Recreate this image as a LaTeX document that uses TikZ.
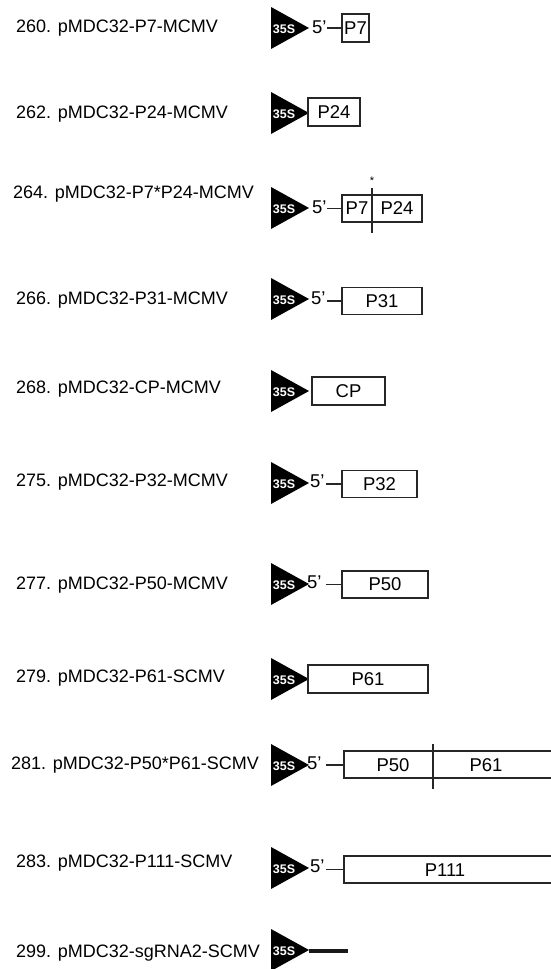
\documentclass[tikz,border=0pt]{standalone}
\usepackage{fontspec}
\setmainfont{Liberation Sans}
\tikzset{
  lbl/.style={anchor=west, inner sep=0pt, font=\fontsize{18}{19}\selectfont},
  gene/.style={draw=black!85, line width=1.6pt, inner sep=0pt, font=\fontsize{18.5}{19}\selectfont},
  gtxt/.style={font=\fontsize{18.5}{19}\selectfont, inner sep=0pt},
  five/.style={anchor=west, inner sep=0pt, font=\fontsize{18.5}{19}\selectfont},
  prom/.style={fill=black},
  promtxt/.style={text=white, inner sep=0pt, font=\bfseries\fontsize{12.5}{13}\selectfont},
  link/.style={draw=black!85, line width=1.6pt},
}
% promoter: #1 name, #2 center y
\newcommand{\promo}[2]{%
  \fill[prom] (271,#2-21) -- (309,#2) -- (271,#2+21) -- cycle;
  \coordinate (#1tip) at (309,#2);
  \node[promtxt] (#1s) at (284,#2+1) {35S};
}
\begin{document}
\begin{tikzpicture}[x=1pt,y=-1pt]
\useasboundingbox[fill=white] (0,0) rectangle (550,969);

% 260
\node[lbl] (l260) at (16,28) {260. pMDC32-P7-MCMV};
\promo{a}{28}
\node[five] (f260) at (312,27) {5’};
\node[gene, minimum width=27pt, minimum height=28pt] (b260) at (355.5,28) {P7};
\coordinate (c260) at (327,28);
\draw[link] (c260) -- (b260.west);

% 262
\node[lbl] (l262) at (16,114) {262. pMDC32-P24-MCMV};
\promo{b}{113}
\node[gene, minimum width=52pt, minimum height=28pt] (b262) at (334,112) {P24};

% 264
\node[lbl] (l264) at (13,194) {264. pMDC32-P7*P24-MCMV};
\promo{c}{208}
\node[five] (f264) at (312,207) {5’};
\node[gene, minimum width=80pt, minimum height=27pt] (b264) at (382,208.5) {};
\node[gtxt] (t264a) at (357,208.5) {P7};
\node[gtxt] (t264b) at (397,208.5) {P24};
\coordinate (d264t) at (372,188);
\coordinate (d264b) at (372,233);
\draw[link] (d264t) -- (d264b);
\node[font=\fontsize{11}{11}\selectfont, inner sep=0pt] (s264) at (372,181) {*};
\coordinate (c264) at (327,208.5);
\draw[link] (c264) -- (b264.west);

% 266
\node[lbl] (l266) at (16,300) {266. pMDC32-P31-MCMV};
\promo{d}{299}
\node[five] (f266) at (311,298) {5’};
\node[gene, minimum width=80pt, minimum height=27pt] (b266) at (382,301) {P31};
\coordinate (c266) at (327,301);
\draw[link] (c266) -- (b266.west);

% 268
\node[lbl] (l268) at (16,389) {268. pMDC32-CP-MCMV};
\promo{e}{391}
\node[gene, minimum width=73pt, minimum height=28pt] (b268) at (348.5,391) {CP};

% 275
\node[lbl] (l275) at (16,482) {275. pMDC32-P32-MCMV};
\promo{f}{483}
\node[five] (f275) at (310,481) {5’};
\node[gene, minimum width=75pt, minimum height=27pt] (b275) at (379.5,484) {P32};
\coordinate (c275) at (326,484);
\draw[link] (c275) -- (b275.west);

% 277
\node[lbl] (l277) at (16,585) {277. pMDC32-P50-MCMV};
\promo{g}{584}
\node[five] (f277) at (307,582) {5’};
\node[gene, minimum width=86pt, minimum height=27pt] (b277) at (385,584.5) {P50};
\coordinate (c277) at (326,584.5);
\draw[link] (c277) -- (b277.west);

% 279
\node[lbl] (l279) at (16,678) {279. pMDC32-P61-SCMV};
\promo{h}{679}
\node[gene, minimum width=120pt, minimum height=28pt] (b279) at (368,679) {P61};

% 281
\node[lbl] (l281) at (11,765) {281. pMDC32-P50*P61-SCMV};
\promo{i}{765}
\node[five] (f281) at (307,763) {5’};
\coordinate (b281nw) at (344,751);
\coordinate (b281sw) at (344,778);
\coordinate (b281ne) at (551,751);
\coordinate (b281se) at (551,778);
\draw[link] (b281ne) -- (b281nw) -- (b281sw) -- (b281se);
\coordinate (b281w) at (344,765);
\node[gtxt] (t281a) at (393,765) {P50};
\node[gtxt] (t281b) at (486,765) {P61};
\coordinate (d281t) at (433,744);
\coordinate (d281b) at (433,789);
\draw[link] (d281t) -- (d281b);
\coordinate (c281) at (326,765);
\draw[link] (c281) -- (b281w);

% 283
\node[lbl] (l283) at (16,863) {283. pMDC32-P111-SCMV};
\promo{j}{868}
\node[five] (f283) at (310,866) {5’};
\coordinate (b283nw) at (344,856);
\coordinate (b283sw) at (344,883);
\coordinate (b283ne) at (551,856);
\coordinate (b283se) at (551,883);
\draw[link] (b283ne) -- (b283nw) -- (b283sw) -- (b283se);
\coordinate (b283w) at (344,869.5);
\node[gtxt] (t283) at (445,870) {P111};
\coordinate (c283) at (326,869.5);
\draw[link] (c283) -- (b283w);

% 299
\node[lbl] (l299) at (16,953) {299. pMDC32-sgRNA2-SCMV};
\promo{k}{950}
\coordinate (e299) at (348,951);
\draw[line width=3.2pt, black!90] (ktip) ++(0,1) -- (e299);
\end{tikzpicture}
\end{document}
